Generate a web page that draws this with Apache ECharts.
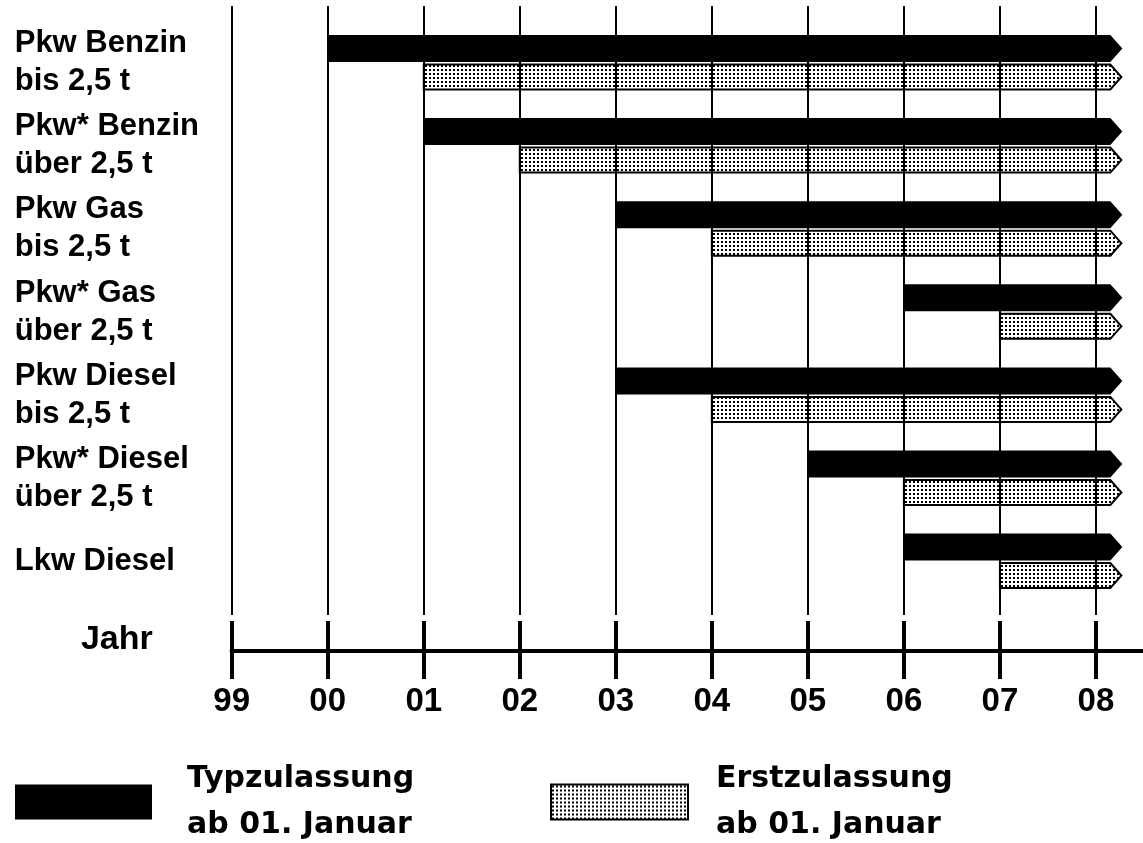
<!DOCTYPE html>
<html><head><meta charset="utf-8">
<script src="https://cdn.jsdelivr.net/npm/echarts@6/dist/echarts.min.js"></script>
<style>html,body{margin:0;padding:0;background:#fff}#c{width:1143px;height:843px}</style>
</head><body><div id="c"></div>
<script>
// ---- data ----
var rowLabels = ['Pkw Benzin\nbis 2,5 t', 'Pkw* Benzin\nüber 2,5 t', 'Pkw Gas\nbis 2,5 t', 'Pkw* Gas\nüber 2,5 t', 'Pkw Diesel\nbis 2,5 t', 'Pkw* Diesel\nüber 2,5 t', 'Lkw Diesel'];
var yearLabels = ['99', '00', '01', '02', '03', '04', '05', '06', '07', '08'];
// start positions as index into yearLabels
var typStart = [1, 2, 4, 7, 4, 6, 7];
var erstStart = [2, 3, 5, 8, 5, 7, 8];
var barEnd = 9.15; // bars run slightly past '08' (open ended)
var legendNames = ['Typzulassung\nab 01. Januar', 'Erstzulassung\nab 01. Januar'];

// ---- build ----
var yearIdx = yearLabels.map(function (_, i) { return i; });
var rowIdx = rowLabels.map(function (_, i) { return i; });
var typData = typStart.map(function (s, i) { return [s, barEnd, i]; });
var erstData = erstStart.map(function (s, i) { return [s, barEnd, i]; });

var cv = document.createElement('canvas');
cv.width = 4; cv.height = 4;
var cx = cv.getContext('2d');
cx.fillStyle = '#ffffff'; cx.fillRect(0, 0, 4, 4);
cx.fillStyle = '#000000'; cx.fillRect(1, 1, 2, 2);
var dotPattern = { image: cv, repeat: 'repeat' };

function arrowItem(offsetY, h, tip) {
  return function (params, api) {
    var p0 = api.coord([api.value(0), api.value(2)]);
    var p1 = api.coord([api.value(1), api.value(2)]);
    var y = p0[1] + offsetY;
    return {
      type: 'polygon',
      shape: { points: [[p0[0], y - h / 2], [p1[0], y - h / 2], [p1[0] + tip, y], [p1[0], y + h / 2], [p0[0], y + h / 2]] },
      style: api.style()
    };
  };
}

var font = 'Liberation Sans, Arial, sans-serif';
var gridBox = { left: 231.7, width: 911.3, top: 6, height: 609, outerBoundsMode: 'none', containLabel: false };
var xCommon = {
  type: 'value', min: 0, max: 9.49, position: 'bottom', offset: 36,
  splitLine: { show: false },
  axisLine: { show: true, onZero: false, lineStyle: { color: '#000', width: 4 } }
};
var yCommon = {
  type: 'value', inverse: true, min: -0.683, max: 6.646,
  axisLine: { show: false, onZero: false }, axisTick: { show: false }, splitLine: { show: false }
};

var chart = echarts.init(document.getElementById('c'), null, { renderer: 'canvas' });
chart.setOption({
  animation: false,
  backgroundColor: '#fff',
  grid: [Object.assign({}, gridBox), Object.assign({}, gridBox)],
  xAxis: [
    Object.assign({}, xCommon, {
      gridIndex: 0,
      name: 'Jahr', nameLocation: 'start', nameGap: 79,
      nameTextStyle: { color: '#000', fontSize: 34, fontWeight: 'bold', fontFamily: font, verticalAlign: 'bottom', lineHeight: 22 },
      axisTick: { show: true, inside: false, length: 28, customValues: yearIdx, lineStyle: { color: '#000', width: 4 } },
      axisLabel: {
        show: true, customValues: yearIdx, margin: 34, color: '#000', fontSize: 33, fontWeight: 'bold', fontFamily: font,
        formatter: function (v) { return yearLabels[Math.round(v)]; }
      }
    }),
    Object.assign({}, xCommon, {
      gridIndex: 1,
      axisTick: { show: true, inside: true, length: 30, customValues: yearIdx, lineStyle: { color: '#000', width: 4 } },
      axisLabel: { show: false }
    })
  ],
  yAxis: [
    Object.assign({}, yCommon, {
      gridIndex: 0,
      axisLabel: {
        show: true, customValues: rowIdx, align: 'left', margin: 217, color: '#000',
        fontSize: 31, fontWeight: 'bold', fontFamily: font, lineHeight: 38,
        formatter: function (v) { return rowLabels[Math.round(v)]; }
      }
    }),
    Object.assign({}, yCommon, { gridIndex: 1, axisLabel: { show: false } })
  ],
  legend: [
    {
      data: [legendNames[0]], left: 10, top: 751, itemWidth: 137, itemHeight: 35, icon: 'rect', selectedMode: false,
      textStyle: { color: '#000', fontSize: 30, fontWeight: 'bold', fontFamily: 'DejaVu Sans, sans-serif', lineHeight: 46, padding: [0, 0, 0, 30] }
    },
    {
      data: [legendNames[1]], left: 545, top: 751, itemWidth: 137, itemHeight: 35, icon: 'rect', selectedMode: false,
      itemStyle: { borderColor: '#000', borderWidth: 2 },
      textStyle: { color: '#000', fontSize: 30, fontWeight: 'bold', fontFamily: 'DejaVu Sans, sans-serif', lineHeight: 46, padding: [0, 0, 0, 23] }
    }
  ],
  series: [
    {
      name: legendNames[0], type: 'custom', renderItem: arrowItem(-14.25, 27, 12),
      xAxisIndex: 0, yAxisIndex: 0,
      encode: { x: [0, 1], y: 2 }, data: typData, z: 2,
      itemStyle: { color: '#000' }
    },
    {
      name: legendNames[1], type: 'custom', renderItem: arrowItem(14.25, 25, 11),
      xAxisIndex: 0, yAxisIndex: 0,
      encode: { x: [0, 1], y: 2 }, data: erstData, z: 2,
      itemStyle: { color: dotPattern, borderColor: '#000', borderWidth: 2 }
    },
    {
      name: 'grid', type: 'line', data: [], z: 5, silent: true,
      xAxisIndex: 0, yAxisIndex: 0,
      markLine: {
        silent: true, symbol: ['none', 'none'], label: { show: false },
        lineStyle: { color: '#000', width: 2, type: 'solid' },
        data: yearIdx.map(function (i) { return { xAxis: i }; })
      }
    }
  ]
});
</script></body></html>
